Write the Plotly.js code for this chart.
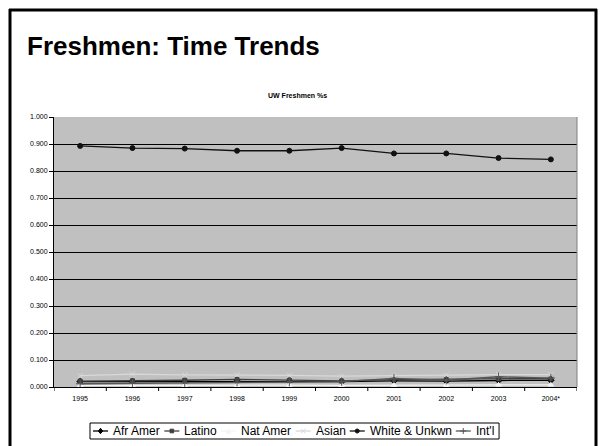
<!DOCTYPE html>
<html>
<head>
<meta charset="utf-8">
<script src="https://cdn.plot.ly/plotly-3.0.1.min.js"></script>
<style>
  html, body { margin: 0; padding: 0; background: #ffffff; }
  #chart { width: 600px; height: 446px; }
</style>
</head>
<body>
<div id="chart"></div>
<script>
// Academic years on the category axis
const years = ['1995', '1996', '1997', '1998', '1999', '2000', '2001', '2002', '2003', '2004*'];

// Share of the freshman class by group
const afrAmer   = [0.020, 0.020, 0.021, 0.022, 0.022, 0.020, 0.023, 0.022, 0.024, 0.025];
const latino    = [0.022, 0.023, 0.025, 0.028, 0.026, 0.023, 0.027, 0.028, 0.030, 0.032];
const natAmer   = [0.005, 0.006, 0.006, 0.007, 0.007, 0.006, 0.007, 0.007, 0.008, 0.008];
const asian     = [0.042, 0.048, 0.045, 0.045, 0.043, 0.040, 0.042, 0.045, 0.046, 0.046];
const whiteUnk  = [0.893, 0.885, 0.883, 0.875, 0.875, 0.885, 0.865, 0.865, 0.848, 0.843];
const intl      = [0.012, 0.014, 0.016, 0.018, 0.018, 0.020, 0.032, 0.025, 0.038, 0.033];

const seriesNames = ['Afr Amer', 'Latino', 'Nat Amer', 'Asian', 'White & Unkwn', "Int'l"];

const yTicks = [0, 0.1, 0.2, 0.3, 0.4, 0.5, 0.6, 0.7, 0.8, 0.9, 1.0];
const yTickText = yTicks.map(v => v.toFixed(3));

const FONT = 'Arial, "Liberation Sans", sans-serif';

// Per-series styling: colour and marker kind
const styles = [
  { color: '#000000', symbol: 'diamond',         size: 5 },
  { color: '#404040', symbol: 'square',          size: 4 },
  { color: '#f4f4f4', symbol: 'triangle-up',     size: 5 },
  { color: '#d8d8d8', symbol: 'x-thin-open',     size: 5 },
  { color: '#111111', symbol: 'circle',          size: 5 },
  { color: '#555555', symbol: 'cross-thin-open', size: 6 }
];
const values = [afrAmer, latino, natAmer, asian, whiteUnk, intl];

const traces = values.map((y, i) => ({
  type: 'scatter', mode: 'lines+markers', name: seriesNames[i],
  x: years, y: y,
  line: { color: styles[i].color, width: 1.3 },
  marker: { color: styles[i].color, symbol: styles[i].symbol, size: styles[i].size,
            line: { color: styles[i].color, width: 1 } },
  showlegend: false
}));

// Fixed plot box (in page pixels)
const M = { l: 54, r: 23, t: 117, b: 59 };
const W = 600, H = 446;
const plotW = W - M.l - M.r, plotH = H - M.t - M.b;
const px = x => (x - M.l) / plotW;
const py = y => (H - M.b - y) / plotH;

const annotations = [
  {
    text: '<b>Freshmen: Time Trends</b>',
    xref: 'paper', yref: 'paper', x: px(25), y: py(46),
    xanchor: 'left', yanchor: 'middle', showarrow: false,
    font: { size: 26, family: FONT, color: '#000000' }
  },
  {
    text: '<b>UW Freshmen %s</b>',
    xref: 'paper', yref: 'paper', x: px(297), y: py(95),
    xanchor: 'center', yanchor: 'middle', showarrow: false,
    font: { size: 7, family: FONT, color: '#000000' }
  }
];

const shapes = [];

// Category separator ticks beneath the x axis
for (let i = 0; i <= years.length; i++) {
  shapes.push({
    type: 'line', xref: 'x', yref: 'paper',
    x0: i - 0.5, x1: i - 0.5, y0: 0, y1: -4 / plotH,
    line: { color: '#000000', width: 1 }
  });
}

// Right-hand border of the plot area
shapes.push({ type: 'line', xref: 'paper', yref: 'paper', x0: 1, x1: 1, y0: 0, y1: 1,
              line: { color: '#808080', width: 1 } });

// Slide frame
shapes.push(
  { type: 'line', xref: 'paper', yref: 'paper', x0: px(10), x1: px(10), y0: py(9), y1: py(447), line: { color: '#000000', width: 3 } },
  { type: 'line', xref: 'paper', yref: 'paper', x0: px(9), x1: px(597), y0: py(10), y1: py(10), line: { color: '#000000', width: 3 } },
  { type: 'line', xref: 'paper', yref: 'paper', x0: px(596), x1: px(596), y0: py(9), y1: py(447), line: { color: '#000000', width: 3 } }
);

// Legend row under the chart: line sample with marker, then label
const ctx = document.createElement('canvas').getContext('2d');
ctx.font = '12px ' + FONT;
const legY = 431, sampleW = 15, legLeft = 90;
let cx = legLeft + 3;
function markerShape(sym, x, y, color) {
  const s = 2.2;
  const base = { xref: 'paper', yref: 'paper', line: { color: color, width: 1 } };
  const P = (a, b) => px(a) + ',' + py(b);
  if (sym === 'diamond') return Object.assign(base, { type: 'path', fillcolor: color,
    path: 'M' + P(x, y - s - 0.5) + 'L' + P(x + s, y) + 'L' + P(x, y + s + 0.5) + 'L' + P(x - s, y) + 'Z' });
  if (sym === 'square') return Object.assign(base, { type: 'rect', fillcolor: color,
    x0: px(x - 1.8), x1: px(x + 1.8), y0: py(y + 1.8), y1: py(y - 1.8) });
  if (sym === 'triangle-up') return Object.assign(base, { type: 'path', fillcolor: color,
    path: 'M' + P(x, y - s) + 'L' + P(x + s, y + s) + 'L' + P(x - s, y + s) + 'Z' });
  if (sym === 'circle') return Object.assign(base, { type: 'circle', fillcolor: color,
    x0: px(x - 2), x1: px(x + 2), y0: py(y + 2), y1: py(y - 2) });
  if (sym === 'x-thin-open') return Object.assign(base, { type: 'path',
    path: 'M' + P(x - s, y - s) + 'L' + P(x + s, y + s) + 'M' + P(x - s, y + s) + 'L' + P(x + s, y - s) });
  return Object.assign(base, { type: 'path',
    path: 'M' + P(x - 3, y) + 'L' + P(x + 3, y) + 'M' + P(x, y - 3) + 'L' + P(x, y + 3) });
}
seriesNames.forEach((name, i) => {
  const st = styles[i];
  shapes.push({ type: 'line', xref: 'paper', yref: 'paper',
    x0: px(cx), x1: px(cx + sampleW), y0: py(legY), y1: py(legY),
    line: { color: st.color, width: 1.3 } });
  shapes.push(markerShape(st.symbol, cx + sampleW / 2, legY, st.color));
  cx += sampleW + 4;
  annotations.push({
    text: name.replace('&', '&amp;'),
    xref: 'paper', yref: 'paper', x: px(cx), y: py(legY),
    xanchor: 'left', yanchor: 'middle', showarrow: false,
    xshift: -1, font: { size: 12, family: FONT, color: '#000000' }
  });
  cx += ctx.measureText(name).width + 5;
});
const legRight = cx + 1;
shapes.unshift({ type: 'rect', xref: 'paper', yref: 'paper',
  x0: px(legLeft), x1: px(legRight), y0: py(423), y1: py(439),
  fillcolor: '#ffffff', line: { color: '#000000', width: 1 } });

const layout = {
  width: W, height: H,
  margin: M,
  paper_bgcolor: '#ffffff',
  plot_bgcolor: '#c0c0c0',
  font: { family: FONT, color: '#000000' },
  showlegend: false,
  xaxis: {
    type: 'category',
    range: [-0.5, 9.5],
    showgrid: false, zeroline: false,
    showline: true, linecolor: '#000000', linewidth: 1,
    ticks: '', ticklabelstandoff: 5,
    tickfont: { size: 7, color: '#000000' },
    fixedrange: true
  },
  yaxis: {
    range: [0, 1.0],
    tickvals: yTicks, ticktext: yTickText,
    showgrid: true, gridcolor: '#000000', gridwidth: 1,
    zeroline: false,
    showline: true, linecolor: '#000000', linewidth: 1,
    ticks: 'outside', ticklen: 4, tickcolor: '#000000',
    tickfont: { size: 7, color: '#000000' },
    fixedrange: true
  },
  annotations: annotations,
  shapes: shapes
};

Plotly.newPlot('chart', traces, layout, { displayModeBar: false, staticPlot: true });
</script>
</body>
</html>
